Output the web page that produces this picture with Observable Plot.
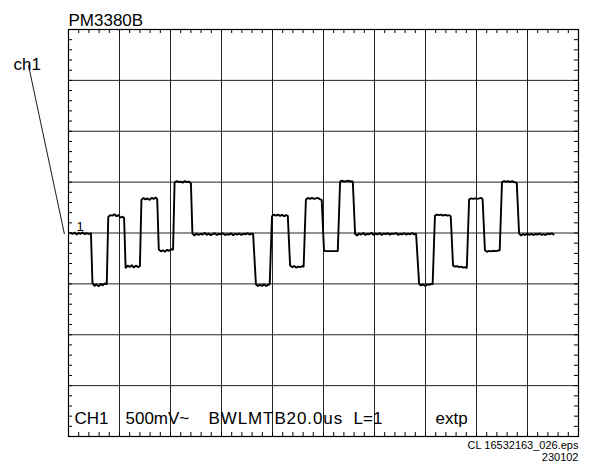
<!DOCTYPE html>
<html>
<head>
<meta charset="utf-8">
<script src="https://cdn.jsdelivr.net/npm/d3@7"></script>
<script src="https://cdn.jsdelivr.net/npm/@observablehq/plot@0.6"></script>
<style>
  html, body { margin: 0; padding: 0; background: #fff; }
  #chart svg { display: block; }
  .wide text { letter-spacing: 0.9px; }
</style>
</head>
<body>
<div id="chart"></div>
<script>
// ---- data (time in µs at 20 µs/div, amplitude in mV at 500 mV/div) ----
const instrument = "PM3380B";
const channelLabel = "ch1";
const markerLabel = "1";
const readout = ["CH1", "500mV~", "BWLMTB20.0us", "L=1", "extp"];
const footer = ["CL 16532163_026.eps", "230102"];

const timeDomainUs = [0, 200];       // 10 div x 20 µs
const voltDomainMv = [-2000, 2000];  // 8 div x 500 mV
const majorXUs = [0, 20, 40, 60, 80, 100, 120, 140, 160, 180, 200];
const majorYMv = [-2000, -1500, -1000, -500, 0, 500, 1000, 1500, 2000];

// trace samples [µs, mV]
const tracePoints = [
  // baseline
  [0.8,0],[1.6,-10],[2.4,5],[3.2,-15],[4.0,0],[4.8,-8],[5.6,6],[6.4,-12],[7.2,-2],[8.0,-10],[8.8,0],
  // burst 1
  [9.4,-490],[10.2,-520],[11.0,-505],[11.8,-525],[12.6,-500],[13.4,-515],[14.2,-495],[15.0,-505],
  [15.6,160],[16.4,175],[17.2,170],[18.0,185],[18.8,165],[19.6,175],[20.4,150],[21.2,160],[21.8,150],
  [22.4,-345],[23.2,-320],[24.0,-335],[24.8,-315],[25.6,-340],[26.4,-320],[27.2,-335],[28.0,-325],
  [28.6,325],[29.4,345],[30.2,330],[31.0,340],[31.8,325],[32.6,345],[33.4,335],[34.2,350],[34.8,330],
  [35.4,-160],[36.2,-180],[37.0,-170],[37.8,-185],[38.6,-165],[39.4,-175],[40.2,-160],[41.0,-165],
  [41.6,495],[42.4,510],[43.2,500],[44.0,505],[44.8,495],[45.6,510],[46.4,500],[47.2,505],[48.0,490],
  // baseline
  [48.6,-5],[49.4,-25],[50.2,-5],[51.0,-20],[51.8,-8],[52.6,-15],[53.4,0],[54.2,-18],[55.0,-6],[55.8,-22],
  [56.6,-10],[57.4,-3],[58.2,-20],[59.0,-8],[59.8,-14],[60.6,-2],[61.4,-20],[62.2,-10],[63.0,-16],[63.8,-4],
  [64.6,-22],[65.4,-9],[66.2,-15],[67.0,-5],[67.8,-18],[68.6,-8],[69.4,-12],[70.2,-3],[71.0,-15],[71.8,-6],[72.4,-10],
  // burst 2
  [73.5,-505],[74.3,-520],[75.1,-510],[75.9,-520],[76.7,-505],[77.5,-520],[78.3,-510],[78.9,-505],
  [79.8,165],[80.6,180],[81.4,170],[82.2,180],[83.0,168],[83.8,178],[84.6,165],[85.4,175],[86.0,168],
  [86.9,-320],[87.7,-335],[88.5,-325],[89.3,-340],[90.1,-330],[90.9,-335],[91.7,-325],[92.2,-335],
  [93.1,330],[93.9,345],[94.7,335],[95.5,345],[96.3,335],[97.1,340],[97.9,345],[98.7,330],[99.3,325],
  [100.2,-175],[101.0,-178],[102.0,-178],[103.0,-178],[104.0,-178],[105.0,-178],[105.6,-178],
  [106.5,505],[107.3,515],[108.1,505],[108.9,510],[109.7,515],[110.5,505],[111.2,510],[111.5,500],
  // baseline
  [112.4,-10],[113.2,-25],[114.0,-5],[114.8,-15],[115.6,0],[116.4,-20],[117.2,-8],[118.0,-12],[118.8,2],[119.6,-18],
  [120.4,-6],[121.2,-14],[122.0,0],[122.8,-20],[123.6,-5],[124.4,-12],[125.2,-2],[126.0,-16],[126.8,-6],[127.6,-10],
  [128.4,0],[129.2,-18],[130.0,-8],[130.8,-14],[131.6,-2],[132.4,-15],[133.2,-6],[134.0,-12],[134.8,0],[135.6,-14],[136.3,-5],
  // burst 3
  [137.5,-500],[138.3,-515],[139.1,-505],[139.9,-520],[140.7,-505],[141.5,-510],[142.3,-500],[142.8,-505],
  [143.7,170],[144.5,180],[145.3,175],[146.1,180],[146.9,172],[147.7,178],[148.5,170],[149.3,175],[149.9,165],
  [150.8,-320],[151.6,-330],[152.4,-325],[153.2,-335],[154.0,-330],[154.8,-340],[155.6,-335],[156.2,-345],
  [157.1,330],[157.9,340],[158.7,335],[159.5,340],[160.3,335],[161.1,340],[161.9,345],[162.4,330],
  [163.3,-170],[164.1,-185],[164.9,-175],[165.7,-180],[166.5,-175],[167.3,-178],[168.1,-175],[169.1,-170],
  [170.0,500],[170.8,510],[171.6,505],[172.4,510],[173.2,500],[174.0,510],[174.8,500],[175.5,495],[175.8,490],
  // baseline
  [176.7,-5],[177.5,-25],[178.3,-10],[179.1,-20],[179.9,-5],[180.7,-18],[181.5,-8],[182.3,-20],[183.1,-10],
  [183.9,-15],[184.7,-5],[185.5,-18],[186.3,-10],[187.1,-20],[187.9,-6],[188.7,-12],[189.5,-3],[190.2,-15]
];

// pointer from the "ch1" label to the channel ground marker [µs, mV]
const pointer = [{x1: -15.7, y1: 1650, x2: -1.6, y2: -10}];

// ---- derived helpers ----
const minorX = d3.range(0, 200.001, 4);     // 5 subdivisions per div
const minorY = d3.range(-2000, 2000.001, 100);
const tickLenX = 1.6;   // µs  (~4 px)
const tickLenY = 40;    // mV  (~4 px)

const font = "'Liberation Sans', Arial, Helvetica, sans-serif";
const ink = "#000";

const chart = Plot.plot({
  width: 593,
  height: 468,
  marginLeft: 68,
  marginRight: 15,
  marginTop: 29,
  marginBottom: 32,
  style: {fontFamily: font, background: "#fff", overflow: "visible"},
  x: {domain: timeDomainUs, axis: null},
  y: {domain: voltDomainMv, axis: null},
  marks: [
    // grid
    Plot.ruleX(majorXUs, {stroke: "#222", strokeWidth: 1}),
    Plot.ruleY(majorYMv, {stroke: "#222", strokeWidth: 1}),
    // minor ticks along the border
    Plot.ruleX(minorX, {y1: voltDomainMv[1], y2: voltDomainMv[1] - tickLenY, stroke: ink}),
    Plot.ruleX(minorX, {y1: voltDomainMv[0], y2: voltDomainMv[0] + tickLenY, stroke: ink}),
    Plot.ruleY(minorY, {x1: timeDomainUs[0], x2: timeDomainUs[0] + tickLenX, stroke: ink}),
    Plot.ruleY(minorY, {x1: timeDomainUs[1], x2: timeDomainUs[1] - tickLenX, stroke: ink}),
    Plot.frame({stroke: ink, strokeWidth: 1.2}),
    // waveform
    Plot.line(tracePoints, {x: d => d[0], y: d => d[1], stroke: ink, strokeWidth: 1.9, strokeLinejoin: "miter", clip: true}),
    // channel marker and pointer
    Plot.link(pointer, {x1: "x1", y1: "y1", x2: "x2", y2: "y2", stroke: ink, strokeWidth: 0.9}),
    Plot.text([markerLabel], {x: timeDomainUs[0], y: 0, dx: 8, dy: -6, textAnchor: "start", fontSize: 13, fill: ink}),
    Plot.text([channelLabel], {frameAnchor: "top-left", dx: -55, dy: 28, textAnchor: "start", fontSize: 17, fill: ink}),
    // title
    Plot.text([instrument], {frameAnchor: "top-left", dx: 0, dy: -16, textAnchor: "start", fontSize: 17, fill: ink}),
    // readout line at the bottom of the screen
    Plot.text([readout[0]], {frameAnchor: "bottom-left", dx: 6, dy: -13, textAnchor: "start", fontSize: 17, fill: ink}),
    Plot.text([readout[1]], {frameAnchor: "bottom-left", dx: 57, dy: -13, textAnchor: "start", fontSize: 17, fill: ink}),
    Plot.text([readout[2]], {frameAnchor: "bottom-left", dx: 140, dy: -13, textAnchor: "start", fontSize: 17, fill: ink, className: "wide"}),
    Plot.text([readout[3]], {frameAnchor: "bottom-left", dx: 285, dy: -13, textAnchor: "start", fontSize: 17, fill: ink}),
    Plot.text([readout[4]], {frameAnchor: "bottom-left", dx: 367, dy: -13, textAnchor: "start", fontSize: 17, fill: ink}),
    // footer
    Plot.text([footer[0]], {frameAnchor: "bottom-right", dx: 0, dy: 12, textAnchor: "end", fontSize: 11, fill: ink}),
    Plot.text([footer[1]], {frameAnchor: "bottom-right", dx: 0, dy: 24, textAnchor: "end", fontSize: 11, fill: ink})
  ]
});

document.getElementById("chart").appendChild(chart);
</script>
</body>
</html>
